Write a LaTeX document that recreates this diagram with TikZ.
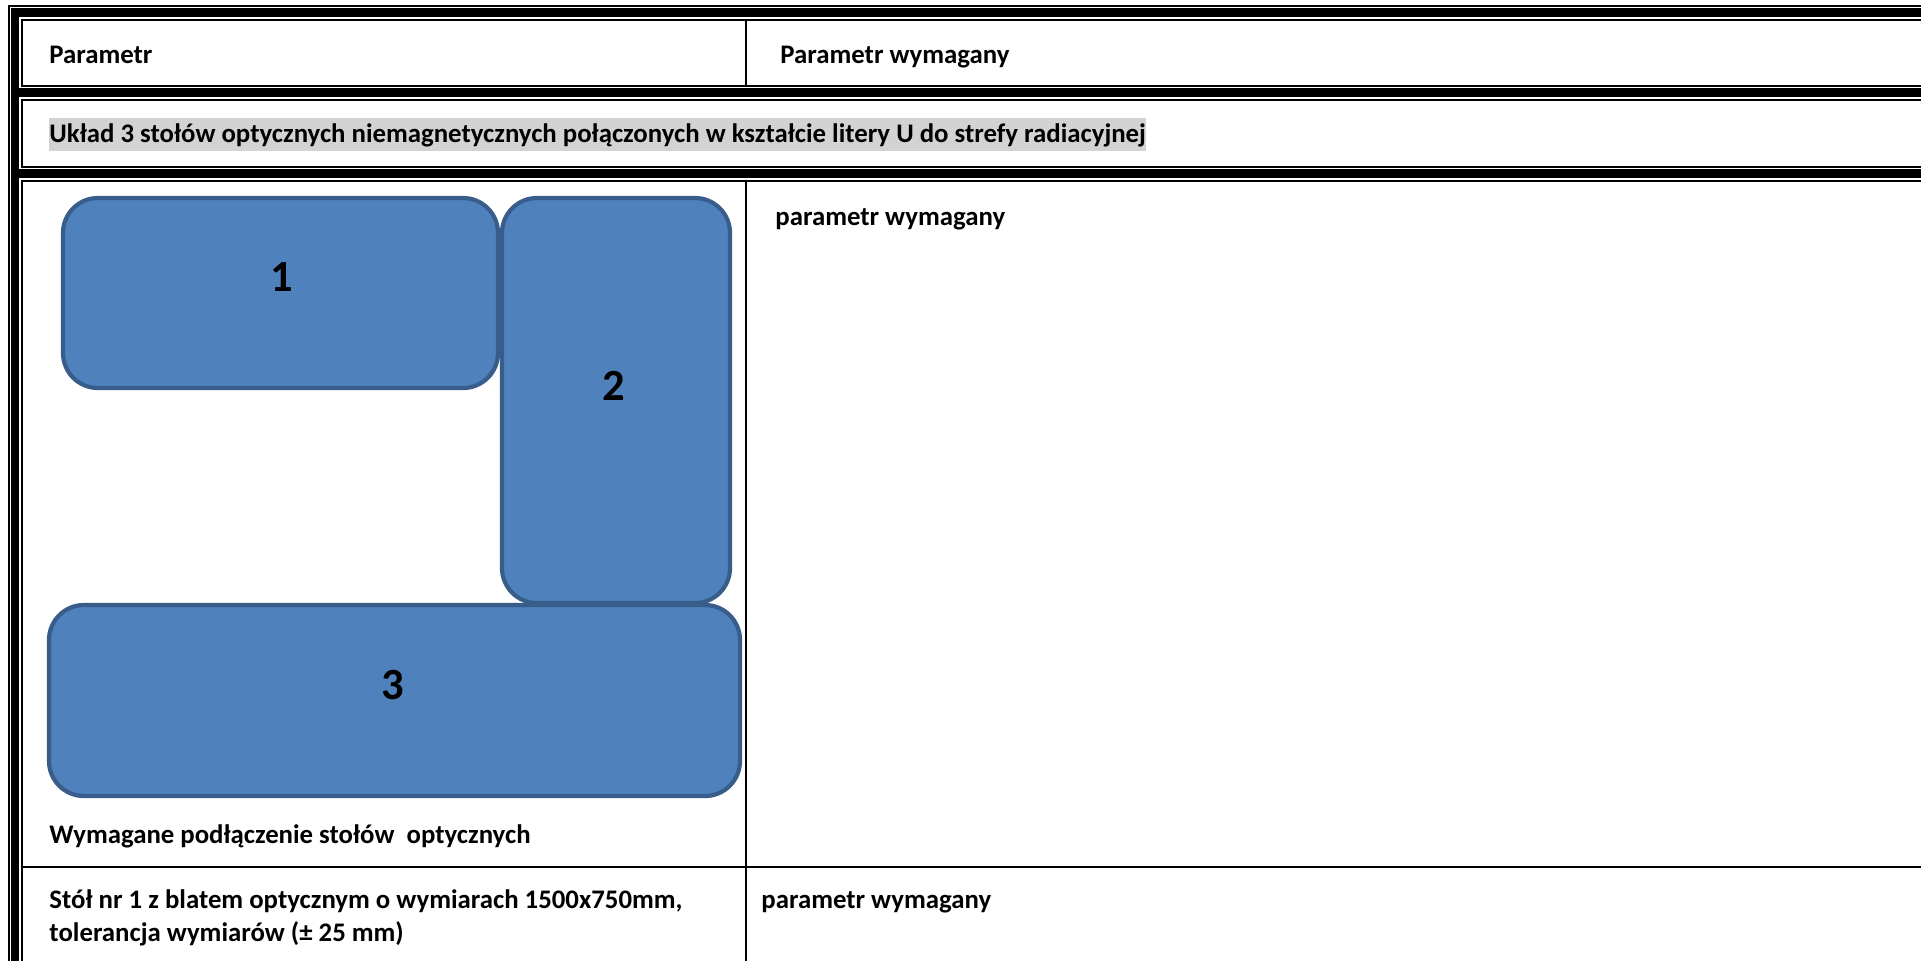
\documentclass[tikz,border=0pt]{standalone}
\usepackage{fontspec}
\setmainfont{Carlito}
\definecolor{boxfill}{HTML}{4F81BD}
\definecolor{boxline}{HTML}{385D8A}
\definecolor{hl}{HTML}{D3D3D3}
\begin{document}
\begin{tikzpicture}[x=0.415pt,y=-0.415pt,
  thinrule/.style={line width=0.85pt, draw=black},
  tablebox/.style={fill=boxfill, draw=boxline, line width=1.75pt, rounded corners=14.5pt},
  txt/.style={anchor=base west, inner sep=0pt, font=\fontsize{11.12}{14}\selectfont\bfseries},
  digit/.style={inner sep=0pt, font=\fontsize{18.5}{22}\selectfont\bfseries}]
\useasboundingbox (0,0) rectangle (1921,960);
\fill[white] (0,0) rectangle (1921,960);
% outer thin line
\fill[black] (8,5) rectangle (9.6,965);
\fill[black] (8,5) rectangle (1925,6.6);
% thick bands
\fill[black] (11,8) rectangle (19,965);
\fill[black] (11,8) rectangle (1925,16.7);
\fill[black] (11,88.3) rectangle (1925,96.7);
\fill[black] (11,169.3) rectangle (1925,178);
% inner thin cell frames
\draw[thinrule] (1925,20) -| (22,86) -- (1925,86);
\draw[thinrule] (1925,100) -| (22,167) -- (1925,167);
\draw[thinrule] (1925,181) -| (22,965);
\draw[thinrule] (22,867) -- (1925,867);
\draw[thinrule] (746,20) -- (746,86);
\draw[thinrule] (746,181) -- (746,965);
% header texts
\node[txt] (h1) at (49,63) {Parametr};
\node[txt] (h2) at (780,63) {Parametr wymagany};
\node[txt, fill=hl, text height=10pt, text depth=3.7pt] (sect) at (49,142) {Układ 3 stołów optycznych niemagnetycznych połączonych w kształcie litery U do strefy radiacyjnej};
% tables
\draw[tablebox] (63,198) rectangle (498,388);
\draw[tablebox] (502,198) rectangle (730,603);
\draw[tablebox] (49,605) rectangle (740,796);
\node[digit] (n1) at (282,277) {1};
\node[digit] (n2) at (614,386) {2};
\node[digit] (n3) at (393,685) {3};
\node[txt] (cap) at (49,843) {Wymagane podłączenie stołów\ \ optycznych};
\node[txt] (p3) at (775,225) {parametr wymagany};
\node[txt] (s1a) at (49,908) {Stół nr 1 z blatem optycznym o wymiarach 1500x750mm,};
\node[txt] (s1b) at (49,941) {tolerancja wymiarów (± 25 mm)};
\node[txt] (p4) at (761,908) {parametr wymagany};
\end{tikzpicture}
\end{document}
